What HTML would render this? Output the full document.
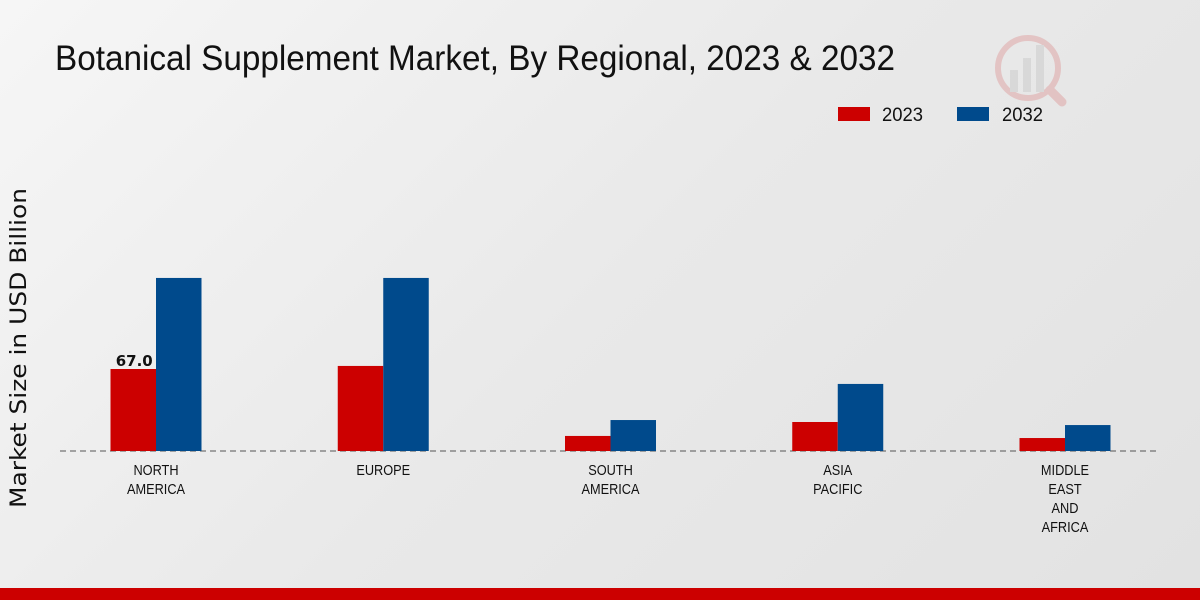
<!DOCTYPE html>
<html><head><meta charset="utf-8">
<style>
body{margin:0;width:1200px;height:600px;overflow:hidden;font-family:"Liberation Sans",sans-serif}
#wrap{position:relative;width:1200px;height:600px;background:linear-gradient(135deg,#f6f6f6 0%,#e9e9e9 50%,#e2e2e2 100%)}
</style></head><body>
<div id="wrap">
<svg id="chart" width="1200" height="600">
<text x="55" y="70" font-size="35" textLength="840" lengthAdjust="spacingAndGlyphs" fill="#111">Botanical Supplement Market, By Regional, 2023 &amp; 2032</text>
<g>
<rect x="838" y="107" width="32" height="14" fill="#cc0000"/>
<text x="882" y="121" font-size="19" textLength="41" lengthAdjust="spacingAndGlyphs" fill="#111">2023</text>
<rect x="957" y="107" width="32" height="14" fill="#004a8c"/>
<text x="1002" y="121" font-size="19" textLength="41" lengthAdjust="spacingAndGlyphs" fill="#111">2032</text>
</g>
<g opacity="0.15">
<circle cx="1028" cy="68" r="30" fill="none" stroke="#cc0000" stroke-width="6"/>
<rect x="1010" y="70" width="8" height="22" fill="#888"/>
<rect x="1023" y="58" width="8" height="34" fill="#888"/>
<rect x="1036" y="45" width="8" height="47" fill="#888"/>
<line x1="1050" y1="90" x2="1062" y2="102" stroke="#cc0000" stroke-width="9" stroke-linecap="round"/>
</g>
<text transform="translate(26,348) rotate(-90)" text-anchor="middle" font-family="'DejaVu Sans',sans-serif" font-size="22" textLength="320" lengthAdjust="spacingAndGlyphs" fill="#111">Market Size in USD Billion</text>
<line x1="60" y1="451" x2="1160" y2="451" stroke="#555" stroke-dasharray="6,4" stroke-width="1"/>
<g id="bars"></g>
<rect x="0" y="588" width="1200" height="12" fill="#cc0000"/>
</svg>
</div>
<script>
const categories=[["NORTH","AMERICA"],["EUROPE"],["SOUTH","AMERICA"],["ASIA","PACIFIC"],["MIDDLE","EAST","AND","AFRICA"]];
const values2023=[67.0,69.5,12.3,23.7,10.6];
const values2032=[141.4,141.4,25.3,54.8,21.2];
const labels2023=["67.0",null,null,null,null];
const ns="http://www.w3.org/2000/svg";
const g=document.getElementById('bars');
const baseY=451, pxPerUnit=82/67;
const y=v=>baseY-v*pxPerUnit;
const xc=i=>156+i*227.25;
const bw=45.5;
function mk(t,a){const e=document.createElementNS(ns,t);for(const k in a)e.setAttribute(k,a[k]);g.appendChild(e);return e;}
categories.forEach((c,i)=>{
 const r1=mk('rect',{x:xc(i)-bw,y:y(values2023[i]),width:bw,height:baseY-y(values2023[i]),fill:'#cc0000'});
 
 
 const r2=mk('rect',{x:xc(i),y:y(values2032[i]),width:bw,height:baseY-y(values2032[i]),fill:'#004a8c'});
 
 
 if(labels2023[i]){const t=mk('text',{x:xc(i)-bw/2+1,y:y(values2023[i])-3,'text-anchor':'middle','font-size':15,'font-weight':'bold',fill:'#111','font-family':"'DejaVu Sans',sans-serif"});t.textContent=labels2023[i];
 
 }
 c.forEach((ln,j)=>{const t=mk('text',{x:xc(i),y:475+j*19,'text-anchor':'middle','font-size':15,fill:'#111',transform:'translate('+xc(i)+',0) scale(0.85,1) translate('+(-xc(i))+',0)'});t.textContent=ln;
 
 });
});
</script>
</body></html>
